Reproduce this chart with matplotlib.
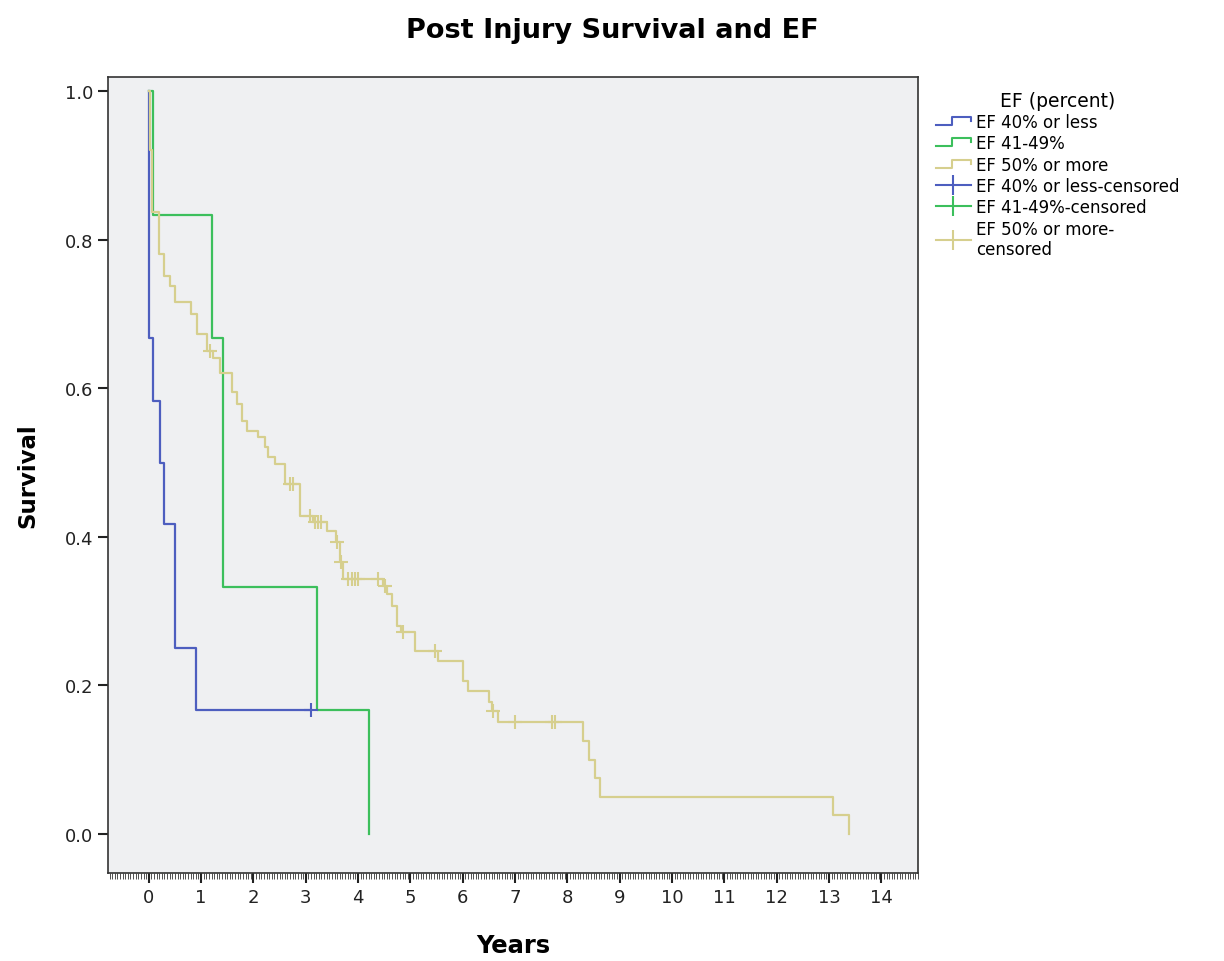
import numpy as np
import matplotlib
matplotlib.use("Agg")
from matplotlib import pyplot as plt
from matplotlib.lines import Line2D
from matplotlib.legend_handler import HandlerBase
from matplotlib.ticker import MultipleLocator

# Kaplan-Meier curves: time of each drop and survival after it
blue_times = [0.0, 0.01, 0.08, 0.21, 0.30, 0.50, 0.90, 3.10]
blue_surv = [1.0, 0.667, 0.583, 0.500, 0.417, 0.250, 0.167, 0.167]
blue_cens_t = [3.10]
blue_cens_s = [0.167]

green_times = [0.0, 0.08, 1.20, 1.41, 3.21, 4.20]
green_surv = [1.0, 0.833, 0.667, 0.333, 0.167, 0.0]

yel_times = [0.0, 0.02, 0.07, 0.19, 0.30, 0.40, 0.50, 0.80, 0.92, 1.12, 1.22, 1.36,
             1.60, 1.68, 1.78, 1.87, 2.08, 2.22, 2.28, 2.41, 2.60, 2.89, 3.13, 3.40,
             3.57, 3.66, 3.72, 4.47, 4.55, 4.65, 4.75, 4.82, 5.09, 5.53, 6.00, 6.10,
             6.50, 6.55, 6.67, 8.30, 8.42, 8.52, 8.62, 13.08, 13.38]
yel_surv = [1.0, 0.920, 0.837, 0.780, 0.751, 0.738, 0.716, 0.700, 0.673, 0.650, 0.640, 0.620,
            0.595, 0.579, 0.556, 0.542, 0.534, 0.521, 0.507, 0.498, 0.471, 0.428, 0.420, 0.408,
            0.393, 0.366, 0.343, 0.334, 0.323, 0.307, 0.280, 0.272, 0.246, 0.233, 0.206, 0.193,
            0.178, 0.166, 0.151, 0.125, 0.100, 0.075, 0.050, 0.025, 0.0]
yel_cens_t = [1.17, 2.70, 2.76, 3.08, 3.17, 3.23, 3.30, 3.60, 3.68, 3.81, 3.88, 3.94,
              4.00, 4.38, 4.51, 4.86, 5.47, 6.58, 7.00, 7.70, 7.76]

labels = ["EF 40% or less", "EF 41-49%", "EF 50% or more",
          "EF 40% or less-censored", "EF 41-49%-censored", "EF 50% or more-\ncensored"]

c_blue = "#4d5ebf"
c_green = "#3cbf5c"
c_yel = "#d6cf8e"


def surv_at(times, surv, t):
    i = np.searchsorted(times, t, side="right") - 1
    return np.array(surv)[i]


class StepHandler(HandlerBase):
    # little step-shaped legend key like the SPSS one
    def create_artists(self, legend, orig_handle, xdescent, ydescent, width, height, fontsize, trans):
        x0 = -xdescent
        y0 = -ydescent
        xs = [x0, x0 + 0.45 * width, x0 + 0.45 * width, x0 + width, x0 + width]
        ys = [y0 + 0.15 * height, y0 + 0.15 * height, y0 + 0.85 * height, y0 + 0.85 * height, y0 + 0.5 * height]
        ln = Line2D(xs, ys, color=orig_handle.get_color(), lw=1.5)
        ln.set_transform(trans)
        return [ln]


fig = plt.figure(figsize=(12.24, 9.62), dpi=100)
ax = fig.add_axes([0.0882, 0.0915, 0.6618, 0.8275])
ax.set_facecolor("#eff0f2")

l1, = ax.step(blue_times, blue_surv, where="post", color=c_blue, lw=1.6)
l2, = ax.step(green_times, green_surv, where="post", color=c_green, lw=1.6)
l3, = ax.step(yel_times, yel_surv, where="post", color=c_yel, lw=1.6)
ax.plot(blue_cens_t, blue_cens_s, "+", color=c_blue, ms=10, mew=1.5)
ax.plot(yel_cens_t, surv_at(yel_times, yel_surv, yel_cens_t), "+", color=c_yel, ms=10, mew=1.5)

ax.set_xlim(-0.78, 14.7)
ax.set_ylim(-0.0525, 1.019)
ax.set_xticks(range(0, 15))
ax.set_yticks([0.0, 0.2, 0.4, 0.6, 0.8, 1.0])
ax.set_yticklabels(["0.0", "0.2", "0.4", "0.6", "0.8", "1.0"])
ax.xaxis.set_minor_locator(MultipleLocator(0.05))
ax.tick_params(axis="both", which="major", direction="out", length=7, width=1.5, labelsize=13, colors="#222222")
ax.tick_params(axis="x", which="minor", direction="out", length=4, width=0.6, color="#333333")
for s in ax.spines.values():
    s.set_color("#333333")
    s.set_linewidth(1.2)

ax.set_xlabel("Years", fontsize=17.5, fontweight="bold", labelpad=20)
ax.set_ylabel("Survival", fontsize=16.5, fontweight="bold", labelpad=18)
fig.text(0.5, 0.968, "Post Injury Survival and EF", ha="center", va="center", fontsize=19.5, fontweight="bold")

h4 = Line2D([], [], color=c_blue, lw=1.5, marker="|", ms=14, mew=1.5)
h5 = Line2D([], [], color=c_green, lw=1.5, marker="|", ms=14, mew=1.5)
h6 = Line2D([], [], color=c_yel, lw=1.5, marker="|", ms=14, mew=1.5)
leg = ax.legend([l1, l2, l3, h4, h5, h6], labels, title="EF (percent)",
                loc="upper left", bbox_to_anchor=(1.02, 0.985), frameon=False,
                fontsize=12, title_fontsize=13.5, handlelength=2.1, handletextpad=0.3,
                labelspacing=0.2, borderaxespad=0.0, borderpad=0.1,
                handler_map={l1: StepHandler(), l2: StepHandler(), l3: StepHandler()})

fig.savefig("out.png", dpi=100, facecolor="white")
